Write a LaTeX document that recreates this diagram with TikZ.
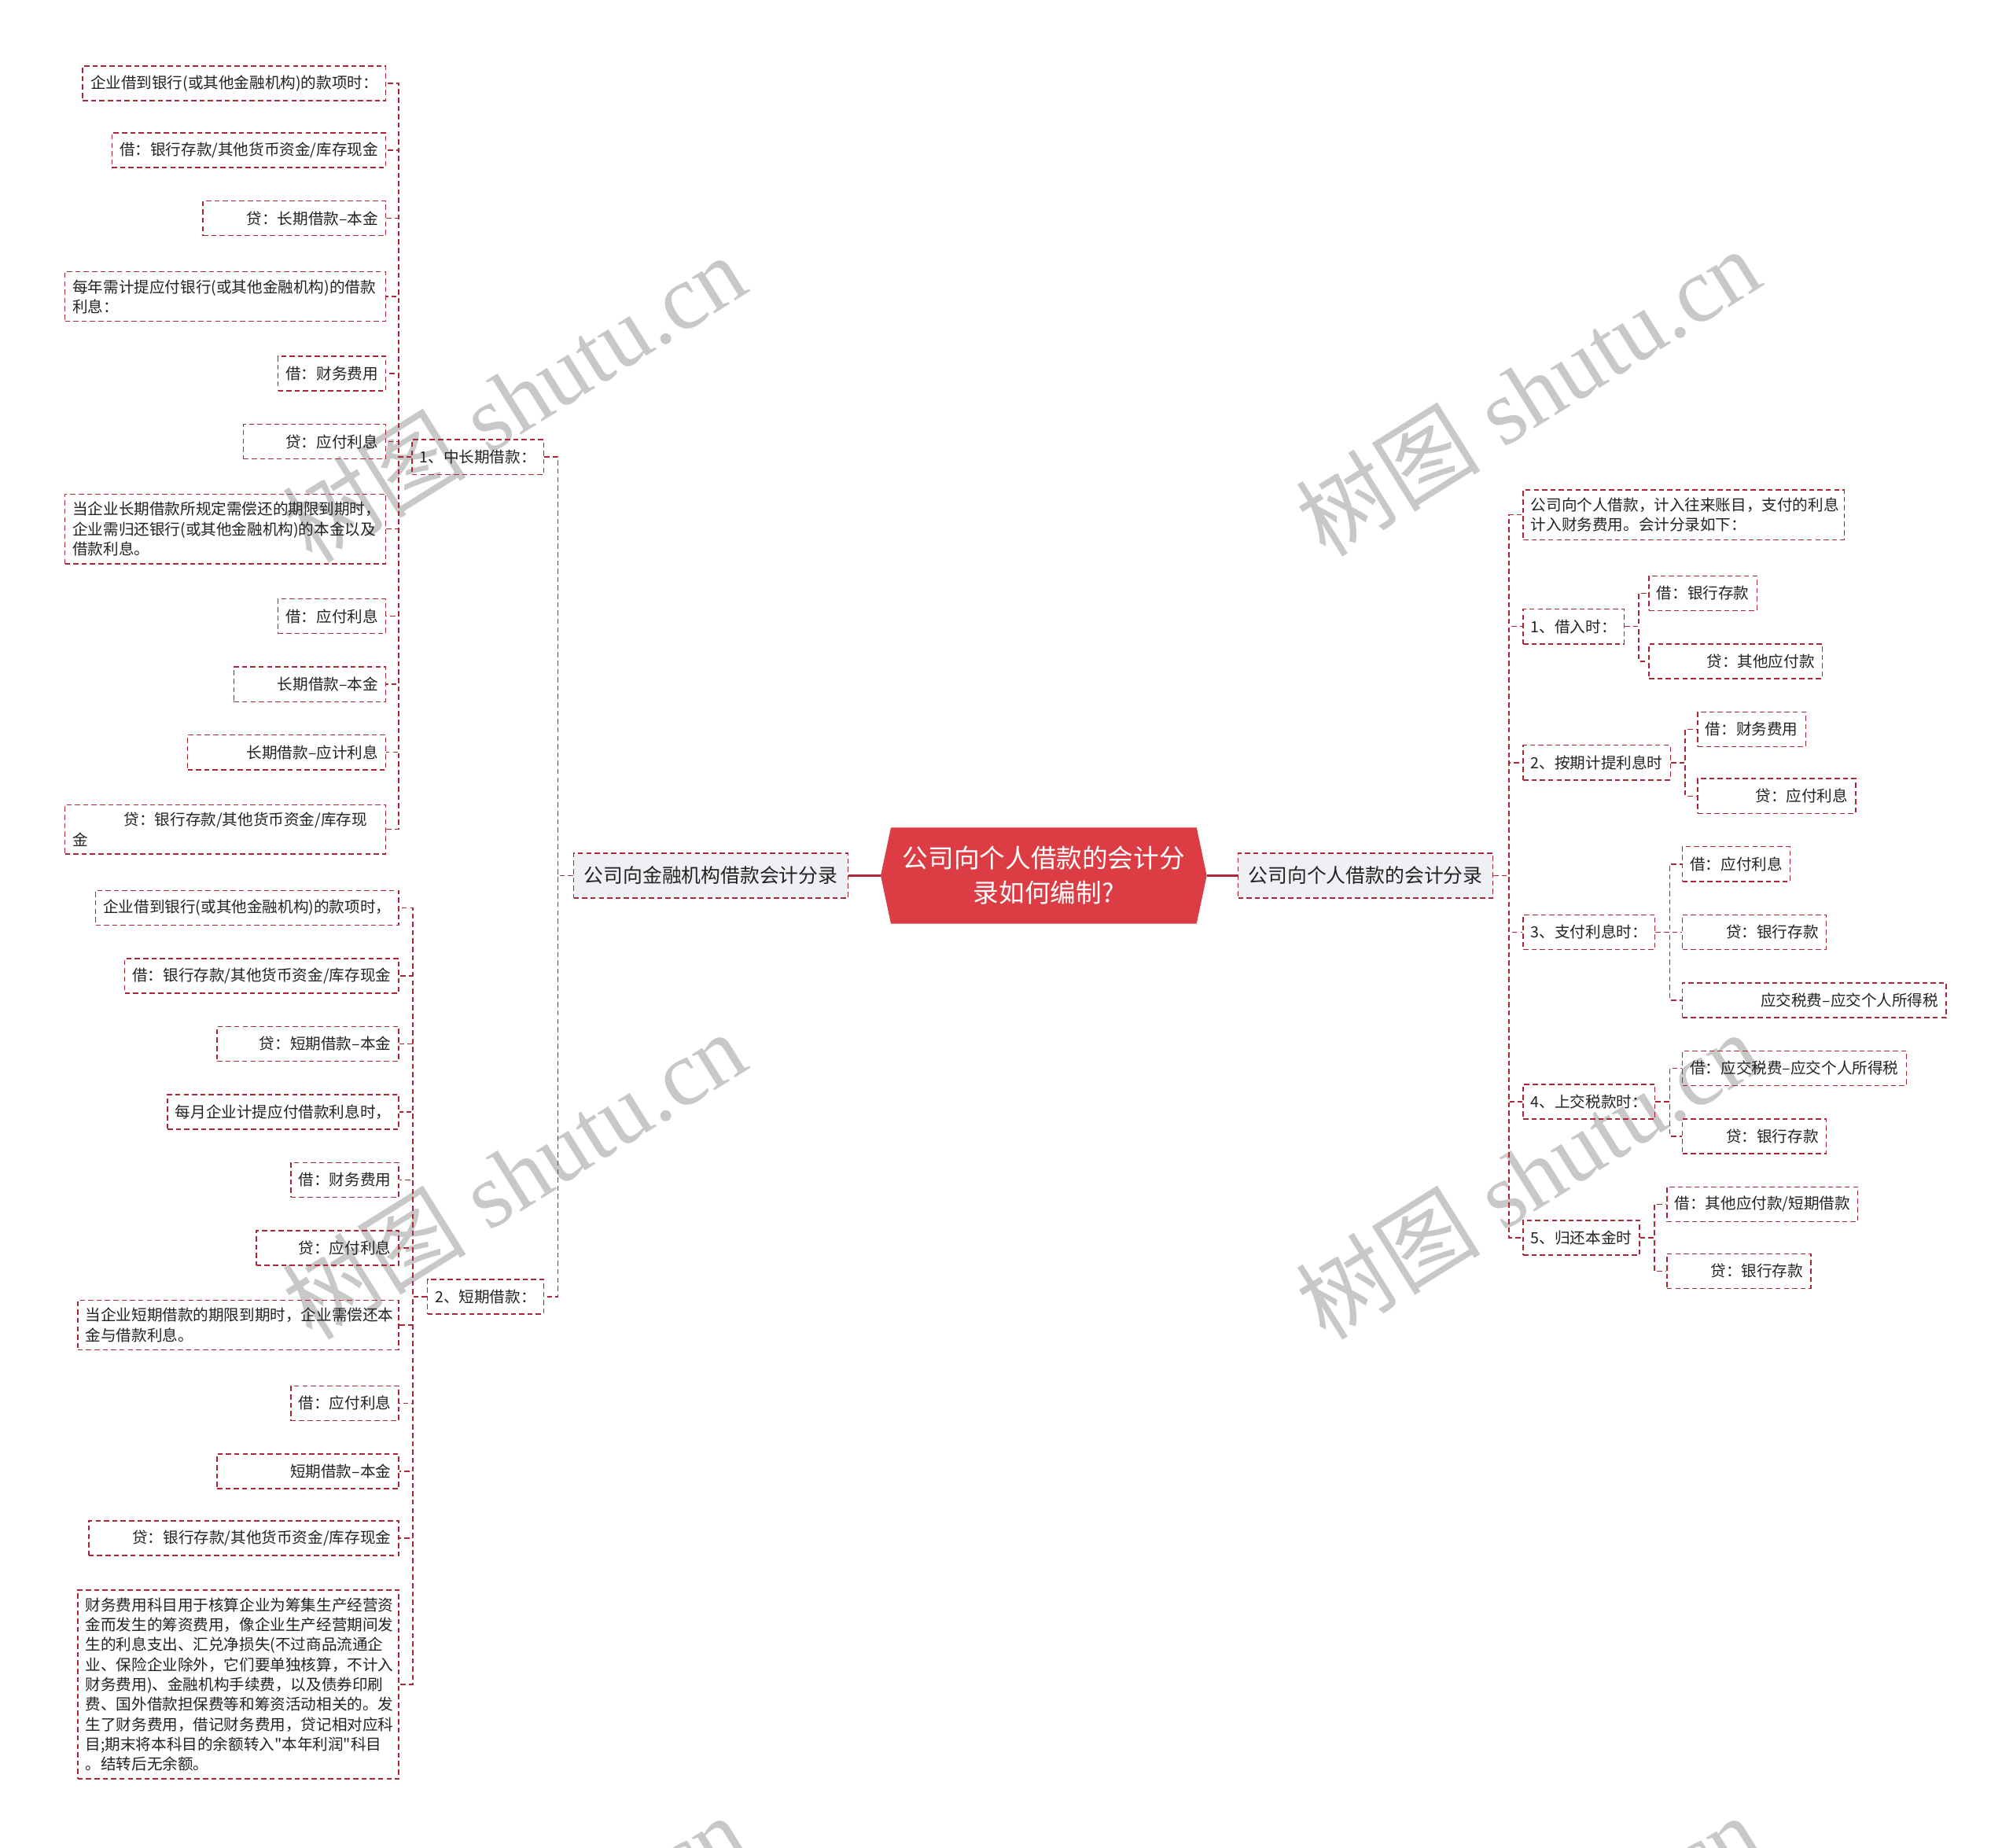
\documentclass[tikz,border=0pt]{standalone}
\usepackage{fontspec}
\newfontfamily\cjk{Noto Sans CJK SC}
\newfontfamily\wmserif{Liberation Serif}
\usepackage{tikz}
\usetikzlibrary{shapes,calc}
\definecolor{linkred}{RGB}{172,38,54}
\definecolor{rootred}{RGB}{220,61,68}
\definecolor{topfill}{RGB}{238,240,243}
\definecolor{inkgray}{RGB}{34,34,34}
\definecolor{markgray}{RGB}{200,200,200}

\begin{document}
\begin{tikzpicture}[x=1pt, y=-1pt,
    font=\cjk\fontsize{12}{15.5}\selectfont, text=inkgray,
    link/.style={draw=linkred, line width=0.9pt, dash pattern=on 4pt off 2.5pt},
    leaf/.style={link, inner xsep=6pt, inner ysep=6pt, minimum height=27pt},
    multi/.style={leaf, text width=238pt, align=left},
    topic/.style={link, fill=topfill, inner xsep=8pt, minimum height=35pt,
      font=\cjk\fontsize{15.2}{18}\selectfont},
    root/.style={signal, signal to=east and west, signal pointer angle=156,
      fill=rootred, text=white, minimum width=254pt, minimum height=75pt,
      align=center, font=\cjk\fontsize{20}{27}\selectfont},
    stem/.style={draw=linkred, line width=2pt},
    wmark/.style={rotate=32, text=markgray,
      font=\wmserif\fontsize{72}{72}\selectfont}]
  \clip (0,0) rectangle (1568,1439);
  \fill[white] (0,0) rectangle (1568,1439);

  % watermark, behind everything
  \foreach \wx/\wy in {400/310, 400/915, 400/1525, 1190/305, 1190/915, 1190/1525}
    \node[wmark] (wm-\wx-\wy) at (\wx,\wy) {{\cjk 树图} shutu.cn};

  % centre and the two main topics
  \node[root] (root) at (813,682) {公司向个人借款的会计分\\录如何编制?};
  \node[topic, anchor=east] (fin) at (661,682) {公司向金融机构借款会计分录};
  \node[topic, anchor=west] (ind) at (964,682) {公司向个人借款的会计分录};
  \draw[stem] (root.west) -- (fin.east);
  \draw[stem] (root.east) -- (ind.west);

  % left: 1、中长期借款
  \node[leaf, anchor=east] (lt) at (424,356) {1、中长期借款：};
  \node[leaf, anchor=east] (lt1) at (301,65) {企业借到银行(或其他金融机构)的款项时：};
  \node[leaf, anchor=east] (lt2) at (301,117) {借：银行存款/其他货币资金/库存现金};
  \node[leaf, anchor=east] (lt3) at (301,170) {\hspace*{28pt}贷：长期借款–本金};
  \node[multi, anchor=east] (lt4) at (301,231)
    {每年需计提应付银行(或其他金融机构)的借款\\利息：};
  \node[leaf, anchor=east] (lt5) at (301,291) {借：财务费用};
  \node[leaf, anchor=east] (lt6) at (301,344) {\hspace*{27pt}贷：应付利息};
  \node[multi, anchor=east] (lt7) at (301,412)
    {当企业长期借款所规定需偿还的期限到期时，\\企业需归还银行(或其他金融机构)的本金以及\\借款利息。};
  \node[leaf, anchor=east] (lt8) at (301,480) {借：应付利息};
  \node[leaf, anchor=east] (lt9) at (301,533) {\hspace*{28pt}长期借款–本金};
  \node[leaf, anchor=east] (lt10) at (301,586) {\hspace*{40pt}长期借款–应计利息};
  \node[multi, anchor=east] (lt11) at (301,646)
    {\hspace*{40pt}贷：银行存款/其他货币资金/库存现\\金};

  % left: 2、短期借款
  \node[leaf, anchor=east] (st) at (424,1010) {2、短期借款：};
  \node[leaf, anchor=east] (st1) at (311,707) {企业借到银行(或其他金融机构)的款项时，};
  \node[leaf, anchor=east] (st2) at (311,760) {借：银行存款/其他货币资金/库存现金};
  \node[leaf, anchor=east] (st3) at (311,813) {\hspace*{27pt}贷：短期借款–本金};
  \node[leaf, anchor=east] (st4) at (311,866) {每月企业计提应付借款利息时，};
  \node[leaf, anchor=east] (st5) at (311,919) {借：财务费用};
  \node[leaf, anchor=east] (st6) at (311,972) {\hspace*{27pt}贷：应付利息};
  \node[multi, anchor=east] (st7) at (311,1032)
    {当企业短期借款的期限到期时，企业需偿还本\\金与借款利息。};
  \node[leaf, anchor=east] (st8) at (311,1093) {借：应付利息};
  \node[leaf, anchor=east] (st9) at (311,1146) {\hspace*{51pt}短期借款–本金};
  \node[leaf, anchor=east] (st10) at (311,1198) {\hspace*{28pt}贷：银行存款/其他货币资金/库存现金};
  \node[multi, anchor=east] (st11) at (311,1312)
    {财务费用科目用于核算企业为筹集生产经营资\\金而发生的筹资费用，像企业生产经营期间发\\生的利息支出、汇兑净损失(不过商品流通企\\业、保险企业除外，它们要单独核算，不计入\\财务费用)、金融机构手续费，以及债券印刷\\费、国外借款担保费等和筹资活动相关的。发\\生了财务费用，借记财务费用，贷记相对应科\\目;期末将本科目的余额转入"本年利润"科目\\。结转后无余额。};

  % right side
  \node[multi, anchor=west] (in0) at (1186,401)
    {公司向个人借款，计入往来账目，支付的利息\\计入财务费用。会计分录如下：};
  \node[leaf, anchor=west] (in1) at (1186,488) {1、借入时：};
  \node[leaf, anchor=west] (in2) at (1186,594) {2、按期计提利息时};
  \node[leaf, anchor=west] (in3) at (1186,726) {3、支付利息时：};
  \node[leaf, anchor=west] (in4) at (1186,858) {4、上交税款时：};
  \node[leaf, anchor=west] (in5) at (1186,964) {5、归还本金时};
  \node[leaf, anchor=west] (in1a) at (1284,462) {借：银行存款};
  \node[leaf, anchor=west] (in1b) at (1284,515) {\hspace*{39pt}贷：其他应付款};
  \node[leaf, anchor=west] (in2a) at (1322,568) {借：财务费用};
  \node[leaf, anchor=west] (in2b) at (1322,620) {\hspace*{39pt}贷：应付利息};
  \node[leaf, anchor=west] (in3a) at (1310,673) {借：应付利息};
  \node[leaf, anchor=west] (in3b) at (1310,726) {\hspace*{28pt}贷：银行存款};
  \node[leaf, anchor=west] (in3c) at (1310,779) {\hspace*{55pt}应交税费–应交个人所得税};
  \node[leaf, anchor=west] (in4a) at (1310,832) {借：应交税费–应交个人所得税};
  \node[leaf, anchor=west] (in4b) at (1310,885) {\hspace*{28pt}贷：银行存款};
  \node[leaf, anchor=west] (in5a) at (1298,938) {借：其他应付款/短期借款};
  \node[leaf, anchor=west] (in5b) at (1298,990) {\hspace*{28pt}贷：银行存款};

  % connectors
  \foreach \c in {lt,st}
    \draw[link] (fin.west) -- ++(-12,0) |- (\c.east);
  \foreach \k in {1,...,11} {
    \draw[link] (lt.west) -- ++(-10,0) |- (lt\k.east);
    \draw[link] (st.west) -- ++(-11,0) |- (st\k.east);
  }
  \foreach \k in {0,...,5}
    \draw[link] (ind.east) -- ++(12,0) |- (in\k.west);
  \foreach \p/\c in {in1/in1a, in1/in1b, in2/in2a, in2/in2b, in3/in3a,
      in3/in3b, in3/in3c, in4/in4a, in4/in4b, in5/in5a, in5/in5b}
    \draw[link] (\p.east) -- ++(11,0) |- (\c.west);
\end{tikzpicture}
\end{document}
